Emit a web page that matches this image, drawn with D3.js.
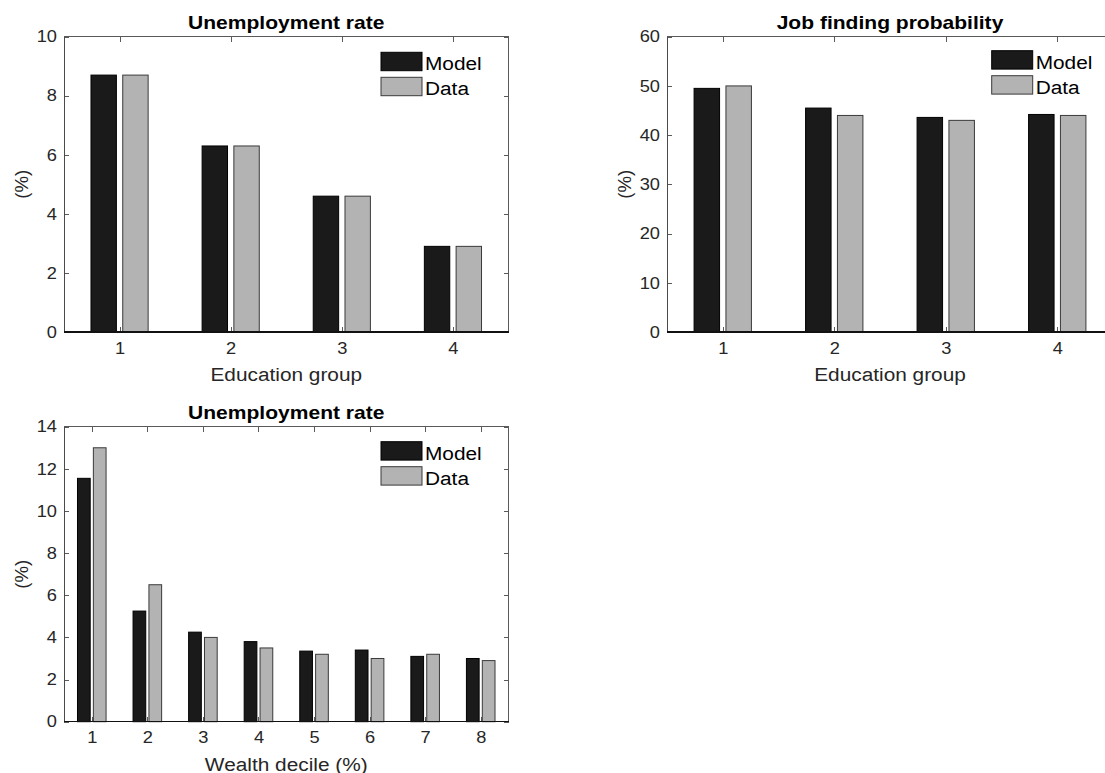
<!DOCTYPE html>
<html>
<head>
<meta charset="utf-8">
<script src="https://cdn.jsdelivr.net/npm/d3@7"></script>
<style>
  html, body { margin: 0; padding: 0; background: #fff; }
  svg { display: block; }
  text { font-family: "Liberation Sans", Arial, Helvetica, sans-serif; }
</style>
</head>
<body>
<svg id="chart" width="1105" height="773"></svg>
<script>
// ---------------- data ----------------
const eduGroups = [1, 2, 3, 4];
const unempEduModel = [8.7, 6.3, 4.6, 2.9];
const unempEduData  = [8.7, 6.3, 4.6, 2.9];
const jobFindModel  = [49.5, 45.5, 43.6, 44.2];
const jobFindData   = [50, 44, 43, 44];
const wealthDeciles = [1, 2, 3, 4, 5, 6, 7, 8];
const unempWealthModel = [11.55, 5.25, 4.25, 3.8, 3.35, 3.4, 3.1, 3.0];
const unempWealthData  = [13, 6.5, 4.0, 3.5, 3.2, 3.0, 3.2, 2.9];
const yTicksEdu    = [0, 2, 4, 6, 8, 10];
const yTicksJob    = [0, 10, 20, 30, 40, 50, 60];
const yTicksWealth = [0, 2, 4, 6, 8, 10, 12, 14];
const seriesNames  = ["Model", "Data"];
const titles = ["Unemployment rate", "Job finding probability", "Unemployment rate"];
const xLabels = ["Education group", "Education group", "Wealth decile (%)"];
const yLabel = "(%)";

// ---------------- style / layout ----------------
const SX = 1.12;            // horizontal text stretch of the source picture
const colors = ["#1a1a1a", "#b3b3b3"];
const edges  = ["#000000", "#3a3a3a"];
const axisCol = "#262626";
const boxCol  = "#5a5a5a";

const panels = [
  { left: 64,  right: 508.5, top: 36.7,  bottom: 332,   cats: eduGroups,     series: [unempEduModel, unempEduData],       yMax: 10, yTicks: yTicksEdu,    title: titles[0], xLabel: xLabels[0], legend: { x: 381,   y: 52.3 } },
  { left: 667, right: 1113,  top: 36.7,  bottom: 332,   cats: eduGroups,     series: [jobFindModel, jobFindData],         yMax: 60, yTicks: yTicksJob,    title: titles[1], xLabel: xLabels[1], legend: { x: 991.7, y: 50.7 } },
  { left: 64,  right: 508.5, top: 426.7, bottom: 721.7, cats: wealthDeciles, series: [unempWealthModel, unempWealthData], yMax: 14, yTicks: yTicksWealth, title: titles[2], xLabel: xLabels[2], legend: { x: 381,   y: 441.7 } }
];

const svg = d3.select("#chart");
const groupWidth = Math.min(0.8, 2 / (2 + 1.5));
const barW = 0.8 * groupWidth / 2;
const offsets = [-groupWidth / 4, groupWidth / 4];

panels.forEach(p => {
  const n = p.cats.length;
  const x = d3.scaleLinear().domain([0.5, n + 0.5]).range([p.left, p.right]);
  const y = d3.scaleLinear().domain([0, p.yMax]).range([p.bottom, p.top]);
  const g = svg.append("g");

  // ticks (under bars, inward)
  const tickLen = 5;
  const xb = g.append("g").attr("transform", `translate(0,${p.bottom})`)
    .call(d3.axisBottom(x).tickValues(p.cats).tickFormat(d3.format("d")).tickSizeInner(-tickLen).tickSizeOuter(0).tickPadding(10));
  const xt = g.append("g").attr("transform", `translate(0,${p.top})`)
    .call(d3.axisTop(x).tickValues(p.cats).tickFormat("").tickSizeInner(-tickLen).tickSizeOuter(0));
  const yl = g.append("g").attr("transform", `translate(${p.left},0)`)
    .call(d3.axisLeft(y).tickValues(p.yTicks).tickFormat(d3.format("d")).tickSizeInner(-tickLen).tickSizeOuter(0).tickPadding(7));
  const yr = g.append("g").attr("transform", `translate(${p.right},0)`)
    .call(d3.axisRight(y).tickValues(p.yTicks).tickFormat("").tickSizeInner(-tickLen).tickSizeOuter(0));
  [xb, xt, yl, yr].forEach(a => {
    a.select(".domain").remove();
    a.selectAll(".tick line").attr("stroke", boxCol).attr("shape-rendering", "crispEdges");
    a.selectAll(".tick text").attr("fill", axisCol).attr("font-size", 16.3)
      .attr("font-family", '"Liberation Sans", Arial, sans-serif');
  });
  xb.selectAll(".tick text").attr("transform", `scale(${SX},1)`);
  yl.selectAll(".tick text").attr("x", -7 / SX).attr("transform", `scale(${SX},1)`);

  // bars
  p.series.forEach((vals, si) => {
    g.append("g").selectAll("rect").data(vals).join("rect")
      .attr("x", (d, i) => x(p.cats[i] + offsets[si] - barW / 2))
      .attr("width", (d, i) => x(p.cats[i] + offsets[si] + barW / 2) - x(p.cats[i] + offsets[si] - barW / 2))
      .attr("y", d => y(d))
      .attr("height", d => y(0) - y(d))
      .attr("fill", colors[si])
      .attr("stroke", edges[si])
      .attr("stroke-width", 1);
  });

  // box
  g.append("rect")
    .attr("x", p.left).attr("y", p.top)
    .attr("width", p.right - p.left).attr("height", p.bottom - p.top)
    .attr("fill", "none").attr("stroke", boxCol).attr("stroke-width", 1)
    .attr("shape-rendering", "crispEdges");
  // left axis line a bit darker
  g.append("line").attr("x1", p.left).attr("x2", p.left).attr("y1", p.top).attr("y2", p.bottom)
    .attr("stroke", "#4a4a4a").attr("shape-rendering", "crispEdges");
  // baseline
  g.append("line").attr("x1", p.left).attr("x2", p.right).attr("y1", y(0)).attr("y2", y(0))
    .attr("stroke", "#111").attr("stroke-width", 1.3).attr("shape-rendering", "crispEdges");

  // title
  g.append("text")
    .attr("transform", `translate(${(p.left + Math.min(p.right, 1113)) / 2},${p.top - 7.3}) scale(${SX},1)`)
    .attr("text-anchor", "middle").attr("font-weight", "bold").attr("font-size", 18.8)
    .attr("fill", "#000").text(p.title);

  // x label
  g.append("text")
    .attr("transform", `translate(${(p.left + p.right) / 2},${p.bottom + 49}) scale(${SX},1)`)
    .attr("text-anchor", "middle").attr("font-size", 18.6)
    .attr("fill", axisCol).text(p.xLabel);

  // y label
  g.append("text")
    .attr("transform", `translate(${p.left - 36},${(p.top + p.bottom) / 2}) rotate(-90)`)
    .attr("text-anchor", "middle").attr("font-size", 18.6)
    .attr("fill", axisCol).text(yLabel);

  // legend
  const lg = g.append("g");
  seriesNames.forEach((name, si) => {
    const ly = p.legend.y + si * 25;
    lg.append("rect").attr("x", p.legend.x).attr("y", ly).attr("width", 41).attr("height", 18.4)
      .attr("fill", colors[si]).attr("stroke", edges[si]).attr("stroke-width", 1);
    lg.append("text")
      .attr("transform", `translate(${p.legend.x + 44},${ly + 18}) scale(${SX},1)`)
      .attr("font-size", 18.6).attr("fill", "#000").text(name);
  });
});
</script>
</body>
</html>
